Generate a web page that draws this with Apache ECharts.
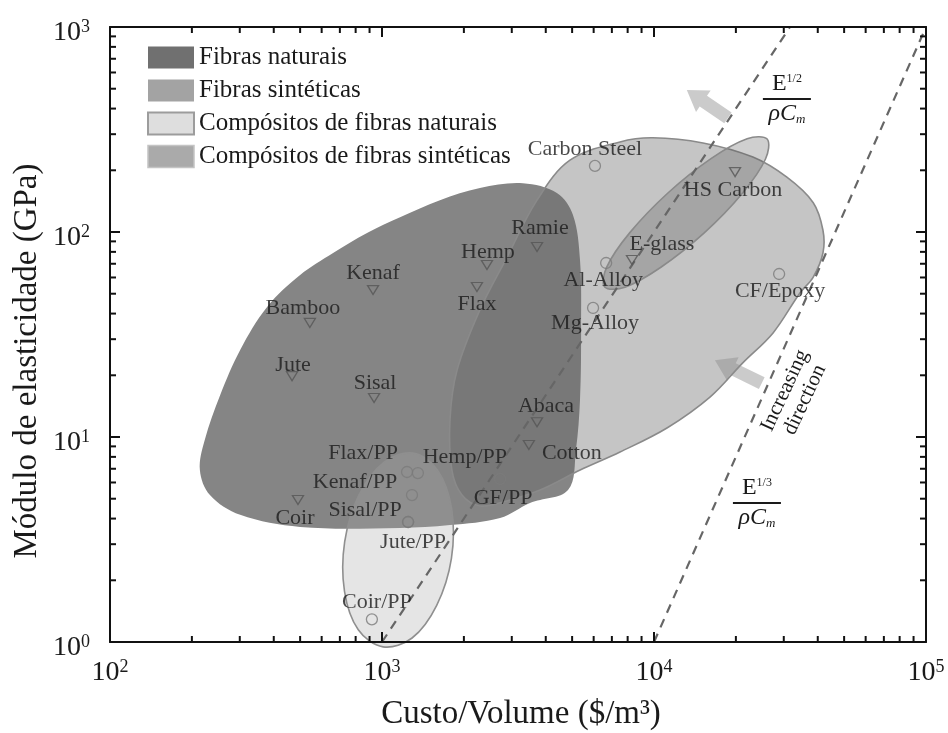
<!DOCTYPE html>
<html>
<head>
<meta charset="utf-8">
<script src="https://cdn.jsdelivr.net/npm/echarts@6/dist/echarts.min.js"></script>
<style>
  html, body { margin: 0; padding: 0; background: #fff; }
  #main { width: 948px; height: 733px; }
</style>
</head>
<body>
<div id="main"></div>
<script>
// fibres (drawn as down triangles)
const fiberNames = ['Kenaf', 'Bamboo', 'Jute', 'Sisal', 'Coir', 'Hemp', 'Flax', 'Ramie', 'Abaca', 'Cotton', 'HS Carbon', 'E-glass'];
const fiberCost = [927, 543, 467, 935, 491, 2432, 2234, 3715, 3715, 3467, 19860, 8300];
const fiberModulus = [52.1, 36.0, 19.8, 15.5, 4.93, 69.0, 53.9, 84.5, 11.8, 9.14, 196, 73.0];

// composites and metals (drawn as circles)
const materialNames = ['Carbon Steel', 'Al-Alloy', 'Mg-Alloy', 'CF/Epoxy', 'GF/PP', 'Flax/PP', 'Hemp/PP', 'Kenaf/PP', 'Sisal/PP', 'Jute/PP', 'Coir/PP'];
const materialCost = [6067, 6670, 5970, 28840, 2717, 1236, 1355, 1289, 1247, 1247, 918];
const materialModulus = [210, 70.6, 42.6, 62.4, 6.24, 6.75, 6.67, 5.21, 3.85, 3.85, 1.29];

// region outlines, [cost, modulus]
const naturalFibresOutline = [
  [301, 26.6], [378, 43.1], [500, 61.7], [661, 79], [881, 98.9], [1165, 118], [1633, 143], [2291, 164],
  [3296, 173], [4395, 155], [5036, 121], [5345, 73], [5395, 33.3], [5345, 15.2], [5163, 8.64], [4830, 5.51],
  [3500, 4.77], [2717, 4.03], [1778, 3.72], [1165, 3.60], [500, 3.64], [301, 4.17], [233, 5.21], [214, 6.90],
  [223, 9.67], [254, 16.0]
];
const syntheticCompositesOutline = [
  [1807, 6.90], [1778, 12.1], [1888, 21.2], [2291, 41.7], [2884, 75.5], [3715, 143], [4909, 224], [7500, 275],
  [9900, 288], [15140, 272], [23100, 232], [30800, 185], [38500, 139], [41800, 102], [41800, 79], [38500, 60.3],
  [34400, 50.4], [27400, 32.2], [21200, 23.0], [16100, 15.7], [11200, 11.1], [7500, 8.45], [5350, 6.90],
  [3810, 5.51], [2790, 4.82], [2291, 4.61], [1968, 5.21]
];
const syntheticFibresOutline = [
  [26060, 284], [25700, 227], [21100, 154], [15300, 99], [10600, 67.3], [7820, 53.8],
  [6590, 53.9], [6700, 67.4], [8150, 99.3], [11250, 155], [16200, 228], [22000, 285]
];
const naturalCompositesOutline = [
  [1300, 8.34], [1600, 6.89], [1803, 4.47], [1800, 2.56], [1589, 1.51], [1290, 1.046],
  [1009, 0.947], [818, 1.147], [728, 1.767], [729, 3.08], [824, 5.24], [1019, 7.55]
];

// guide lines E^(1/2)/(rho Cm) and E^(1/3)/(rho Cm)
const halfPowerLine = [[1000, 1], [31623, 1000]];
const thirdPowerLine = [[10000, 1], [100000, 1000]];

// arrows: tail and tip
const arrowTail = [[18700, 360], [24900, 18.3]];
const arrowTip = [[13200, 493], [16750, 23.7]];

const fractionExponent = ['1/2', '1/3'];
const fractionAnchor = [[30800, 445], [23900, 4.76]];
const directionAnchor = [[32950, 16.0]];

const minorTicksX = [200, 300, 400, 500, 600, 700, 800, 900, 2000, 3000, 4000, 5000, 6000, 7000, 8000, 9000,
  20000, 30000, 40000, 50000, 60000, 70000, 80000, 90000];
const minorTicksY = [2, 3, 4, 5, 6, 7, 8, 9, 20, 30, 40, 50, 60, 70, 80, 90, 200, 300, 400, 500, 600, 700, 800, 900];

// label offsets (px) from the marker
const labelOffset = {
  'Kenaf': [0, -17], 'Bamboo': [-7, -15], 'Jute': [1, -11], 'Sisal': [1, -15], 'Coir': [-3, 18],
  'Hemp': [1, -13], 'Flax': [0, 17], 'Ramie': [3, -19], 'Abaca': [9, -16], 'Cotton': [43, 8],
  'HS Carbon': [-2, 18], 'E-glass': [30, -16],
  'Carbon Steel': [-10, -17], 'Al-Alloy': [-3, 17], 'Mg-Alloy': [2, 15], 'CF/Epoxy': [1, 17],
  'GF/PP': [3, 19], 'Flax/PP': [-44, -19], 'Hemp/PP': [47, -16], 'Kenaf/PP': [-57, -13],
  'Sisal/PP': [-43, -12], 'Jute/PP': [5, 20], 'Coir/PP': [5, -17]
};

const SERIF = '"Liberation Serif", "Times New Roman", serif';
const INK = '#1a1a1a';

const chartDom = document.getElementById('main');
const myChart = echarts.init(chartDom);

function regionSeries(name, outline, fill, stroke) {
  return {
    name: name,
    type: 'custom',
    silent: true,
    clip: false,
    data: [outline[0]],
    renderItem: function (params, api) {
      const pts = outline.map(function (p) { return api.coord(p); });
      return {
        type: 'polygon',
        shape: { points: pts, smooth: 0.35 },
        style: { fill: fill, stroke: stroke || null, lineWidth: stroke ? 1.6 : 0 }
      };
    }
  };
}

function pointSeries(names, cost, modulus, symbol, rotate, color) {
  return {
    type: 'scatter',
    symbol: symbol,
    symbolRotate: rotate,
    symbolSize: symbol === 'circle' ? 11 : [11, 9],
    itemStyle: { color: 'transparent', borderColor: color, borderWidth: 1.3 },
    data: names.map(function (n, i) {
      return {
        name: n,
        value: [cost[i], modulus[i]],
        label: { offset: labelOffset[n] }
      };
    }),
    label: {
      show: true,
      position: 'inside',
      formatter: '{b}',
      fontFamily: SERIF,
      fontSize: 22,
      color: INK
    },
    z: 8
  };
}

const axisCommon = {
  type: 'log',
  logBase: 10,
  z: 10,
  axisLine: { show: true, lineStyle: { color: '#111', width: 2 } },
  axisTick: { show: true, inside: true, length: 10, lineStyle: { color: '#111', width: 2 } },
  splitLine: { show: false },
  minorTick: { show: false }
};

const tickLabel = {
  fontFamily: SERIF,
  color: INK,
  formatter: function (v) { return '{b|10}{s|' + Math.round(Math.log10(v)) + '}'; },
  rich: {
    b: { fontFamily: SERIF, fontSize: 28, lineHeight: 30, color: INK },
    s: { fontFamily: SERIF, fontSize: 18, lineHeight: 18, padding: [0, 0, 12, 0], color: INK }
  }
};

const option = {
  animation: false,
  backgroundColor: '#fff',
  grid: { left: 110, right: 22, top: 27, bottom: 91 },
  legend: {
    orient: 'vertical',
    left: 147,
    top: 45,
    padding: 0,
    itemWidth: 46,
    itemHeight: 22,
    itemGap: 8,
    selectedMode: false,
    textStyle: { fontFamily: SERIF, fontSize: 25, color: INK },
    data: [
      { name: 'Fibras naturais', icon: 'rect', itemStyle: { color: '#707070', borderWidth: 0 } },
      { name: 'Fibras sintéticas', icon: 'rect', itemStyle: { color: '#a3a3a3', borderWidth: 0 } },
      { name: 'Compósitos de fibras naturais', icon: 'rect', itemStyle: { color: '#dedede', borderColor: '#9c9c9c', borderWidth: 2 } },
      { name: 'Compósitos de fibras sintéticas', icon: 'rect', itemStyle: { color: '#aaaaaa', borderColor: '#c4c4c4', borderWidth: 1.5 } }
    ]
  },
  xAxis: [
    Object.assign({}, axisCommon, { min: 100, max: 100000, position: 'bottom', axisLabel: Object.assign({ margin: 16 }, tickLabel) }),
    Object.assign({}, axisCommon, { min: 100, max: 100000, position: 'top', axisLabel: { show: false } })
  ],
  yAxis: [
    Object.assign({}, axisCommon, { min: 1, max: 1000, position: 'left', axisLabel: Object.assign({ margin: 20, padding: [12, 0, 0, 0] }, tickLabel) }),
    Object.assign({}, axisCommon, { min: 1, max: 1000, position: 'right', axisLabel: { show: false } })
  ],
  graphic: [
    {
      type: 'text', x: 521, y: 714,
      style: { text: 'Custo/Volume ($/m³)', font: '33px ' + SERIF, fill: INK, align: 'center', verticalAlign: 'middle' },
      z: 20
    },
    {
      type: 'text', x: 27, y: 361, rotation: Math.PI / 2,
      style: { text: 'Módulo de elasticidade (GPa)', font: '33px ' + SERIF, fill: INK, align: 'center', verticalAlign: 'middle' },
      z: 20
    }
  ],
  series: [
    regionSeries('Fibras naturais', naturalFibresOutline, '#858585', null),
    regionSeries('Compósitos de fibras sintéticas', syntheticCompositesOutline, 'rgba(98,98,98,0.37)', '#8a8a8a'),
    regionSeries('Compósitos de fibras naturais', naturalCompositesOutline, 'rgba(168,168,168,0.3)', '#8f8f8f'),
    regionSeries('Fibras sintéticas', syntheticFibresOutline, 'rgba(81,81,81,0.28)', '#8a8a8a'),
    {
      type: 'line', data: halfPowerLine, symbol: 'none', silent: true, z: 5,
      lineStyle: { color: '#666', width: 2.2, type: [9, 7] }
    },
    {
      type: 'line', data: thirdPowerLine, symbol: 'none', silent: true, z: 5,
      lineStyle: { color: '#666', width: 2.2, type: [9, 7] }
    },
    {
      type: 'custom', silent: true, clip: false, z: 5,
      data: arrowTail.map(function (t, i) { return [t[0], t[1], arrowTip[i][0], arrowTip[i][1]]; }),
      renderItem: function (params, api) {
        const t = api.coord([api.value(0), api.value(1)]);
        const h = api.coord([api.value(2), api.value(3)]);
        const dx = h[0] - t[0], dy = h[1] - t[1];
        const L = Math.sqrt(dx * dx + dy * dy);
        const ux = dx / L, uy = dy / L, nx = -uy, ny = ux;
        const headLen = 20, w1 = 6.5, w2 = 13;
        const bx = h[0] - ux * headLen, by = h[1] - uy * headLen;
        return {
          type: 'polygon',
          shape: { points: [
            [t[0] + nx * w1, t[1] + ny * w1], [bx + nx * w1, by + ny * w1], [bx + nx * w2, by + ny * w2],
            [h[0], h[1]],
            [bx - nx * w2, by - ny * w2], [bx - nx * w1, by - ny * w1], [t[0] - nx * w1, t[1] - ny * w1]
          ] },
          style: { fill: 'rgba(140,140,140,0.45)' }
        };
      }
    },
    {
      type: 'custom', silent: true, clip: false, z: 9,
      data: fractionAnchor,
      renderItem: function (params, api) {
        const p = api.coord([api.value(0), api.value(1)]);
        const exp = fractionExponent[params.dataIndex];
        return {
          type: 'group', x: p[0], y: p[1],
          children: [
            { type: 'text', style: {
              x: 0, y: -3, text: '{e|E}{s|' + exp + '}', align: 'center', verticalAlign: 'bottom', fill: INK,
              rich: {
                e: { fontFamily: SERIF, fontSize: 24, lineHeight: 24, color: INK },
                s: { fontFamily: SERIF, fontSize: 12, lineHeight: 12, padding: [0, 0, 11, 0], color: INK }
              } } },
            { type: 'line', shape: { x1: -24, y1: 0, x2: 24, y2: 0 }, style: { stroke: INK, lineWidth: 2 } },
            { type: 'text', style: {
              x: 0, y: 3, text: '{r|ρC}{m|m}', align: 'center', verticalAlign: 'top', fill: INK,
              rich: {
                r: { fontFamily: SERIF, fontSize: 24, lineHeight: 24, fontStyle: 'italic', color: INK },
                m: { fontFamily: SERIF, fontSize: 13, lineHeight: 13, fontStyle: 'italic', padding: [11, 0, 0, 0], color: INK }
              } } }
          ]
        };
      }
    },
    {
      type: 'custom', silent: true, clip: false, z: 9,
      data: directionAnchor,
      renderItem: function (params, api) {
        const p = api.coord([api.value(0), api.value(1)]);
        return {
          type: 'text', x: p[0], y: p[1], rotation: 65 * Math.PI / 180,
          style: { text: 'Increasing\ndirection', align: 'center', verticalAlign: 'middle',
            font: '21px ' + SERIF, fill: INK, lineHeight: 22 }
        };
      }
    },
    pointSeries(fiberNames, fiberCost, fiberModulus, 'triangle', 180, '#555'),
    pointSeries(materialNames, materialCost, materialModulus, 'circle', 0, '#7a7a7a'),
    {
      type: 'custom', silent: true, clip: false, z: 11,
      data: minorTicksX.map(function (v) { return [v, 1]; }),
      renderItem: function (params, api) {
        const cs = params.coordSys;
        const x = api.coord([api.value(0), 1])[0];
        const yb = cs.y + cs.height;
        return { type: 'group', children: [
          { type: 'line', shape: { x1: x, y1: yb, x2: x, y2: yb - 6 }, style: { stroke: '#111', lineWidth: 2 } },
          { type: 'line', shape: { x1: x, y1: cs.y, x2: x, y2: cs.y + 6 }, style: { stroke: '#111', lineWidth: 2 } }
        ] };
      }
    },
    {
      type: 'custom', silent: true, clip: false, z: 11,
      data: minorTicksY.map(function (v) { return [100, v]; }),
      renderItem: function (params, api) {
        const cs = params.coordSys;
        const y = api.coord([100, api.value(1)])[1];
        const xr = cs.x + cs.width;
        return { type: 'group', children: [
          { type: 'line', shape: { x1: cs.x, y1: y, x2: cs.x + 6, y2: y }, style: { stroke: '#111', lineWidth: 2 } },
          { type: 'line', shape: { x1: xr, y1: y, x2: xr - 6, y2: y }, style: { stroke: '#111', lineWidth: 2 } }
        ] };
      }
    }
  ]
};

option && myChart.setOption(option);
</script>
</body>
</html>
